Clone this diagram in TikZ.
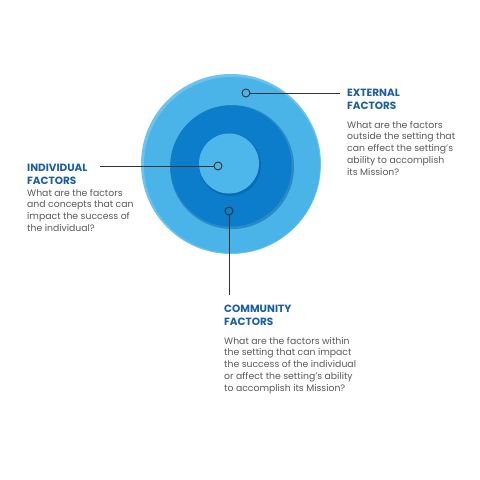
\documentclass[tikz,border=0pt]{standalone}
\usepackage{fontspec}
\setmainfont{Poppins}
\definecolor{outerblue}{HTML}{4AB3E8}
\definecolor{rimblue}{HTML}{6CC3EE}
\definecolor{midblue}{HTML}{0B7DCB}
\definecolor{innerblue}{HTML}{4DB6EB}
\definecolor{headblue}{HTML}{1B5EA6}
\definecolor{bodygray}{HTML}{5A5A5A}
\definecolor{linegray}{HTML}{333333}
\begin{document}
\begin{tikzpicture}[x=1pt,y=-1pt,
  heading/.style={anchor=base west,inner sep=0pt,align=left,font=\fontsize{10.5}{13}\selectfont\bfseries,text=headblue},
  body/.style={anchor=base west,inner sep=0pt,align=left,font=\fontsize{9.3}{11.8}\selectfont,text=bodygray},
  marker/.style={circle,draw=linegray,line width=0.9pt,minimum size=8pt,inner sep=0pt},
  leader/.style={draw=linegray,line width=0.9pt}]
\useasboundingbox (0,0) rectangle (480,480);
\fill[white] (0,0) rectangle (480,480);
% circles
\fill[rimblue] (231,164) circle (90);
\fill[outerblue] (232,165) circle (88);
\fill[midblue!80!black,opacity=0.5] (232,167) circle (62);
\fill[midblue] (231,166) circle (60.5);
\fill[midblue!70!black,opacity=0.4] (230,165) circle (31);
\fill[innerblue] (229,163.5) circle (30);
% markers
\node[marker,fill=outerblue] (mext) at (246,93) {};
\node[marker,fill=innerblue] (mind) at (218,166) {};
\node[marker,fill=midblue] (mcom) at (229,211) {};
\coordinate (eext) at (340,93);
\coordinate (eind) at (100,166);
\coordinate (ecom) at (229,295);
\draw[leader] (mext) -- (eext);
\draw[leader] (mind) -- (eind);
\draw[leader] (mcom) -- (ecom);
% texts (anchored at the baseline of the last line)
\node[heading] (hext) at (347,109) {EXTERNAL\\FACTORS};
\node[body] (bext) at (347,175.2) {What are the factors\\outside the setting that\\can effect the setting's\\ability to accomplish\\its Mission?};
\node[heading] (hind) at (27,184) {INDIVIDUAL\\FACTORS};
\node[body] (bind) at (27,231.4) {What are the factors\\and concepts that can\\impact the success of\\the individual?};
\node[heading] (hcom) at (224,325) {COMMUNITY\\FACTORS};
\node[body] (bcom) at (224,391.2) {What are the factors within\\the setting that can impact\\the success of the individual\\or affect the setting's ability\\to accomplish its Mission?};
\end{tikzpicture}
\end{document}
